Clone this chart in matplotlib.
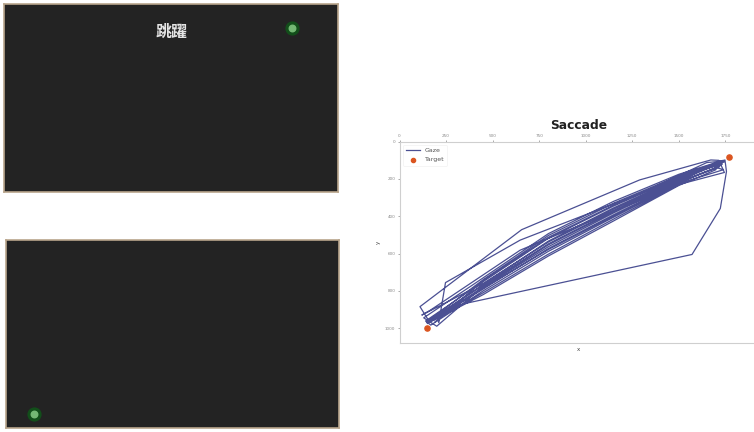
import matplotlib
matplotlib.use("Agg")
import matplotlib.pyplot as plt

plt.rcParams['font.family'] = ['DejaVu Sans']

# Screen size (pixels) used for both stimulus panels and the gaze plot
SCREEN_W, SCREEN_H = 1920, 1080

# Stimulus screens: dot position on each screen
stim_text = "跳躍"
dot_top = (1656, 138)
dot_bottom = (161, 1000)

# Target positions for the saccade
target_x = [150, 1770]
target_y = [1000, 80]

# Recorded gaze samples (continuous path, one row per saccade)
gaze_x = [
    150, 450, 800, 1150, 1500, 1705,
    1740, 1500, 1150, 800, 450, 168,
    140, 450, 800, 1150, 1500, 1730,
    1742, 1500, 1150, 800, 450, 158,
    110, 656, 1290, 1672, 1715,
    1745, 1500, 1150, 800, 450, 205,
    211, 247, 648, 1293, 1650, 1725,
    1735, 1500, 1150, 800, 450, 120,
    164, 648, 1293, 1690,
    1700, 1500, 1150, 800, 450, 185,
    145, 450, 800, 1150, 1500, 1748,
    1756, 1723, 1571, 320, 150,
    150, 450, 800, 1150, 1500, 1718,
    1725, 1500, 1150, 800, 450, 200,
    130, 450, 800, 1150, 1500, 1738,
    1745, 1500, 1150, 800, 450, 160,
    230, 450, 800, 1150, 1500, 1728,
    1733, 1500, 1150, 800, 450, 190,
]
gaze_y = [
    975, 780, 563, 382, 213, 140,
    150, 225, 405, 588, 800, 984,
    962, 750, 518, 345, 190, 108,
    104, 205, 370, 548, 770, 962,
    885, 472, 205, 98, 100,
    165, 230, 415, 603, 810, 948,
    971, 756, 528, 278, 112, 105,
    112, 200, 362, 538, 760, 930,
    905, 582, 313, 120,
    150, 235, 425, 613, 820, 958,
    968, 740, 503, 330, 183, 98,
    160, 358, 605, 875, 975,
    975, 790, 573, 392, 219, 135,
    116, 208, 375, 553, 775, 990,
    945, 730, 493, 320, 175, 100,
    108, 195, 355, 533, 765, 958,
    925, 785, 578, 398, 223, 125,
    120, 187, 340, 513, 745, 968,
]

x_ticks = [0, 250, 500, 750, 1000, 1250, 1500, 1750]
y_ticks = [0, 200, 400, 600, 800, 1000]

W, H = 754, 432
fig = plt.figure(figsize=(W / 100, H / 100), dpi=100)
fig.patch.set_facecolor("white")


def px_axes(x0, y0, x1, y1):
    """Add axes from pixel box (top-left origin)."""
    return fig.add_axes([x0 / W, 1 - y1 / H, (x1 - x0) / W, (y1 - y0) / H])


def stimulus_panel(box, dot, text=None):
    ax = px_axes(*box)
    ax.set_facecolor("#232323")
    ax.set_xlim(0, SCREEN_W)
    ax.set_ylim(SCREEN_H, 0)
    ax.set_xticks([])
    ax.set_yticks([])
    for sp in ax.spines.values():
        sp.set_color("#b9a58c")
        sp.set_linewidth(1.2)
    ax.scatter([dot[0]], [dot[1]], s=85, color="#124f1a", zorder=2)
    ax.scatter([dot[0]], [dot[1]], s=22, color="#74b874", zorder=3)
    if text:
        ax.text(0.503, 0.853, text, transform=ax.transAxes, ha="center",
                va="center", color="#e4e4e4", fontsize=11.5, fontweight="bold",
                family=["Noto Sans CJK TC", "DejaVu Sans"])
    return ax


stimulus_panel((4, 4, 338, 192), dot_top, stim_text)
stimulus_panel((6, 240, 339, 428), dot_bottom)

# Gaze trajectory plot
ax = px_axes(399.5, 141.7, 757, 343)
ax.set_facecolor("white")
ax.plot(gaze_x, gaze_y, color="#2b3180", lw=0.9, alpha=0.85, label="Gaze", zorder=2)
ax.scatter(target_x, target_y, s=14, color="#db5520", label="Target", zorder=3)
ax.set_xlim(0, SCREEN_W)
ax.set_ylim(SCREEN_H, 0)
ax.set_xticks(x_ticks)
ax.set_yticks(y_ticks)
ax.xaxis.tick_top()
ax.tick_params(axis="both", labelsize=3, colors="#888888", length=1.5, width=0.5, pad=1.5)
for sp in ax.spines.values():
    sp.set_color("#cfcfcf")
    sp.set_linewidth(0.8)
ax.set_xlabel("x", fontsize=4, color="#444444", labelpad=3)
ax.set_ylabel("y", fontsize=4, color="#444444", labelpad=3)
ax.set_title("Saccade", fontsize=8.8, fontweight="bold", color="#222222", pad=3)
leg = ax.legend(loc="upper left", fontsize=4.5, frameon=True, handlelength=2.2,
                borderpad=0.5, labelspacing=0.6, markerscale=0.8)
leg.get_frame().set_edgecolor("#eeeeee")
leg.get_frame().set_linewidth(0.5)
for t in leg.get_texts():
    t.set_color("#555555")

fig.savefig("out.png", dpi=100, facecolor="white")
